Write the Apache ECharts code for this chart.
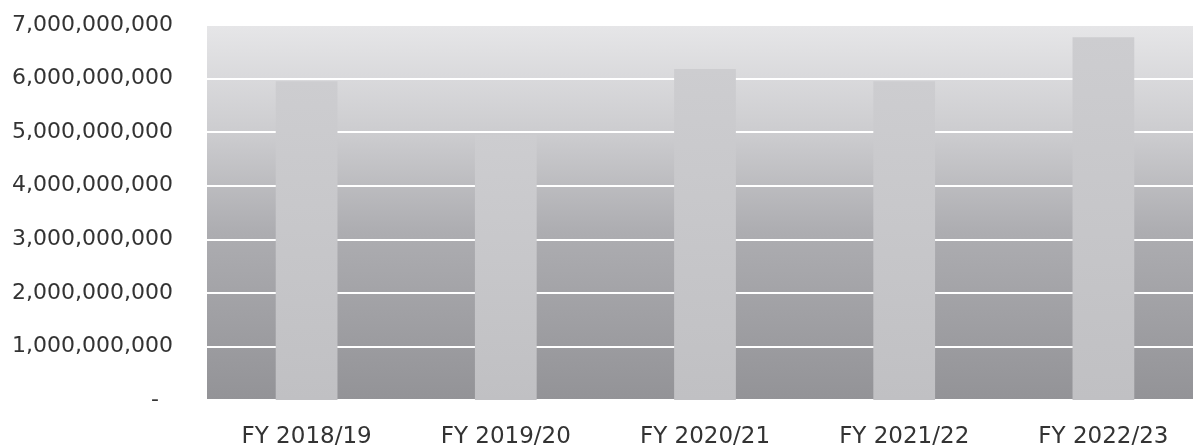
<!DOCTYPE html>
<html>
<head>
<meta charset="utf-8">
<script src="https://cdn.jsdelivr.net/npm/echarts@6/dist/echarts.min.js"></script>
<style>
  html, body { margin: 0; padding: 0; background: #ffffff; }
  #chart { width: 1193px; height: 448px; }
</style>
</head>
<body>
<div id="chart"></div>
<script>
// values
const years = ['FY 2018/19', 'FY 2019/20', 'FY 2020/21', 'FY 2021/22', 'FY 2022/23'];
const amounts = [5950000000, 4950000000, 6180000000, 5950000000, 6770000000];
const yTicks = [0, 1000000000, 2000000000, 3000000000, 4000000000, 5000000000, 6000000000, 7000000000];

const chart = echarts.init(document.getElementById('chart'));

const fmt = (v) => (v === 0 ? '-  ' : v.toLocaleString('en-US'));

chart.setOption({
  animation: false,
  grid: {
    left: 207,
    top: 25,
    width: 996,
    bottom: 48,
    outerBoundsMode: 'none',
    containLabel: false,
    show: true,
    borderWidth: 0,
    backgroundColor: new echarts.graphic.LinearGradient(0, 0, 0, 1, [
      { offset: 0, color: '#e6e6e8' },
      { offset: 0.3, color: '#cbcbce' },
      { offset: 0.55, color: '#adadb1' },
      { offset: 1, color: '#939397' },
    ]),
  },
  xAxis: {
    type: 'category',
    data: years,
    axisLine: { show: false },
    axisTick: { show: false },
    axisLabel: {
      color: '#333',
      fontFamily: 'DejaVu Sans',
      fontSize: 23,
      margin: 26,
    },
  },
  yAxis: {
    type: 'value',
    min: yTicks[0],
    max: yTicks[yTicks.length - 1],
    interval: 1000000000,
    axisLine: { show: false },
    axisTick: { show: false },
    axisLabel: {
      color: '#333',
      fontFamily: 'DejaVu Sans',
      fontSize: 22,
      margin: 34,
      formatter: fmt,
    },
    splitLine: { lineStyle: { color: '#ffffff', width: 2 } },
  },
  series: [
    {
      type: 'bar',
      data: amounts,
      barWidth: '31%',
      itemStyle: {
        color: new echarts.graphic.LinearGradient(0, 0, 0, 1, [
          { offset: 0, color: '#cdcdd0' },
          { offset: 1, color: '#c0c0c3' },
        ]),
      },
    },
  ],
});
</script>
</body>
</html>
